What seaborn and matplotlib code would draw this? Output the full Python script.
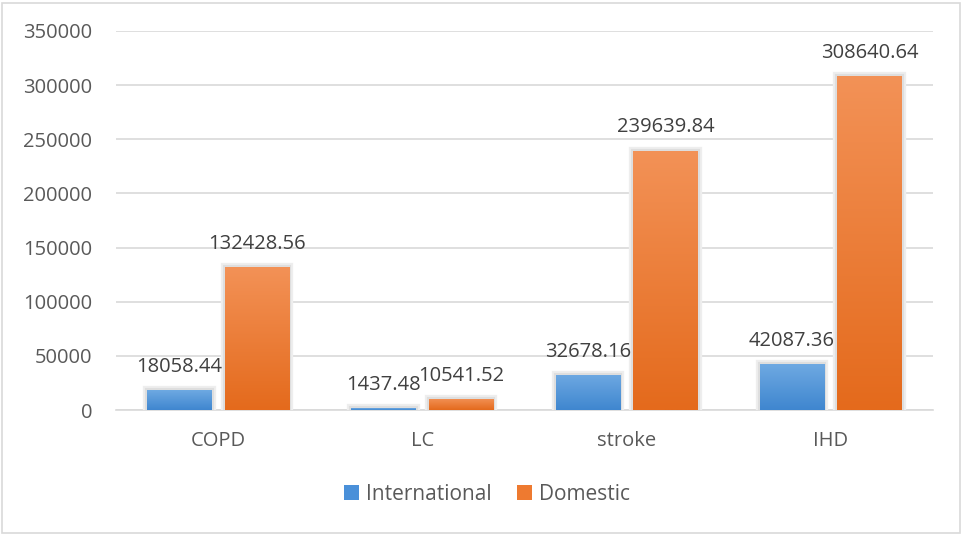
import numpy as np
import pandas as pd
import matplotlib
matplotlib.use("Agg")
import matplotlib.pyplot as plt
import matplotlib.patheffects as pe
from matplotlib.colors import LinearSegmentedColormap
from matplotlib.patches import Rectangle, Patch
import seaborn as sns

categories = ["COPD", "LC", "stroke", "IHD"]
series = ["International", "Domestic"]
international = [18058.44, 1437.48, 32678.16, 42087.36]
domestic = [132428.56, 10541.52, 239639.84, 308640.64]
y_ticks = [0, 50000, 100000, 150000, 200000, 250000, 300000, 350000]

df = pd.DataFrame({
    "disease": categories * 2,
    "source": [series[0]] * 4 + [series[1]] * 4,
    "value": international + domestic,
})

sns.set_theme(style="white")
plt.rcParams["font.family"] = ["Open Sans", "DejaVu Sans"]

text_color = "#595959"
grid_color = "#d9d9d9"
base_colors = {"International": "#4a90d9", "Domestic": "#ee7a30"}
gradients = {
    "International": ("#6ea9e2", "#3f86cf"),
    "Domestic": ("#f39257", "#e46a1c"),
}

fig = plt.figure(figsize=(9.63, 5.35), dpi=100)
ax = fig.add_axes([116 / 963, 1 - 410 / 535, (933 - 116) / 963, (410 - 31) / 535])

sns.barplot(data=df, x="disease", y="value", hue="source", order=categories,
            hue_order=series, palette=base_colors, width=0.76, gap=0.17,
            ax=ax, legend=False, zorder=3)

ax.set_ylim(0, 350000)
ax.set_xlim(-0.5, 3.5)
ax.set_yticks(y_ticks)
ax.set_yticklabels([str(t) for t in y_ticks])
ax.yaxis.grid(True, color=grid_color, linewidth=1.2, zorder=0)
ax.set_axisbelow(True)
for side in ["left", "right", "top"]:
    ax.spines[side].set_visible(False)
ax.spines["bottom"].set_color(grid_color)
ax.spines["bottom"].set_linewidth(1.2)
ax.spines["bottom"].set_zorder(2)
ax.tick_params(axis="both", length=0, labelsize=14.5, labelcolor=text_color)
ax.tick_params(axis="y", pad=17)
ax.tick_params(axis="x", pad=15)
ax.set_xlabel("")
ax.set_ylabel("")

# vertical gradient fill and soft shadow for each bar
n = len(categories)
for i, patch in enumerate(ax.patches[: 2 * n]):
    name = series[i // n]
    top_c, bot_c = gradients[name]
    cmap = LinearSegmentedColormap.from_list(name, [bot_c, top_c])
    x0, y0 = patch.get_x(), patch.get_y()
    w, h = patch.get_width(), patch.get_height()
    patch.set_path_effects([
        pe.Stroke(linewidth=6, foreground="#eeeeee"),
        pe.Stroke(linewidth=3, foreground="#dedede"),
        pe.Normal(),
    ])
    patch.set_linewidth(0)
    grad = np.linspace(0, 1, 256).reshape(-1, 1)
    im = ax.imshow(grad, cmap=cmap, origin="lower", aspect="auto",
                   extent=[x0, x0 + w, y0, y0 + h], zorder=4)
    im.set_clip_path(patch)

ax.set_xlim(-0.5, 3.5)
ax.set_ylim(0, 350000)

# value labels above bars
for i, patch in enumerate(ax.patches[: 2 * n]):
    vals = international if i < n else domestic
    v = vals[i % n]
    cx = patch.get_x() + patch.get_width() / 2
    ax.annotate(f"{v:.2f}", (cx, v), xytext=(0, 13), textcoords="offset points",
                ha="center", va="baseline", fontsize=14.5, color="#404040", zorder=6)

handles = [Patch(facecolor=base_colors[s], edgecolor="none", label=s) for s in series]
fig.legend(handles=handles, loc="center", bbox_to_anchor=(487 / 963, 1 - 494 / 535),
           ncol=2, frameon=False, fontsize=15, handlelength=0.72, handleheight=0.72,
           handletextpad=0.35, columnspacing=1.2, labelcolor=text_color)

fig.patches.append(Rectangle((2 / 963, 2 / 535), 958 / 963, 530 / 535,
                             transform=fig.transFigure, fill=False,
                             edgecolor=grid_color, linewidth=1.2))

fig.savefig("out.png", dpi=100)
